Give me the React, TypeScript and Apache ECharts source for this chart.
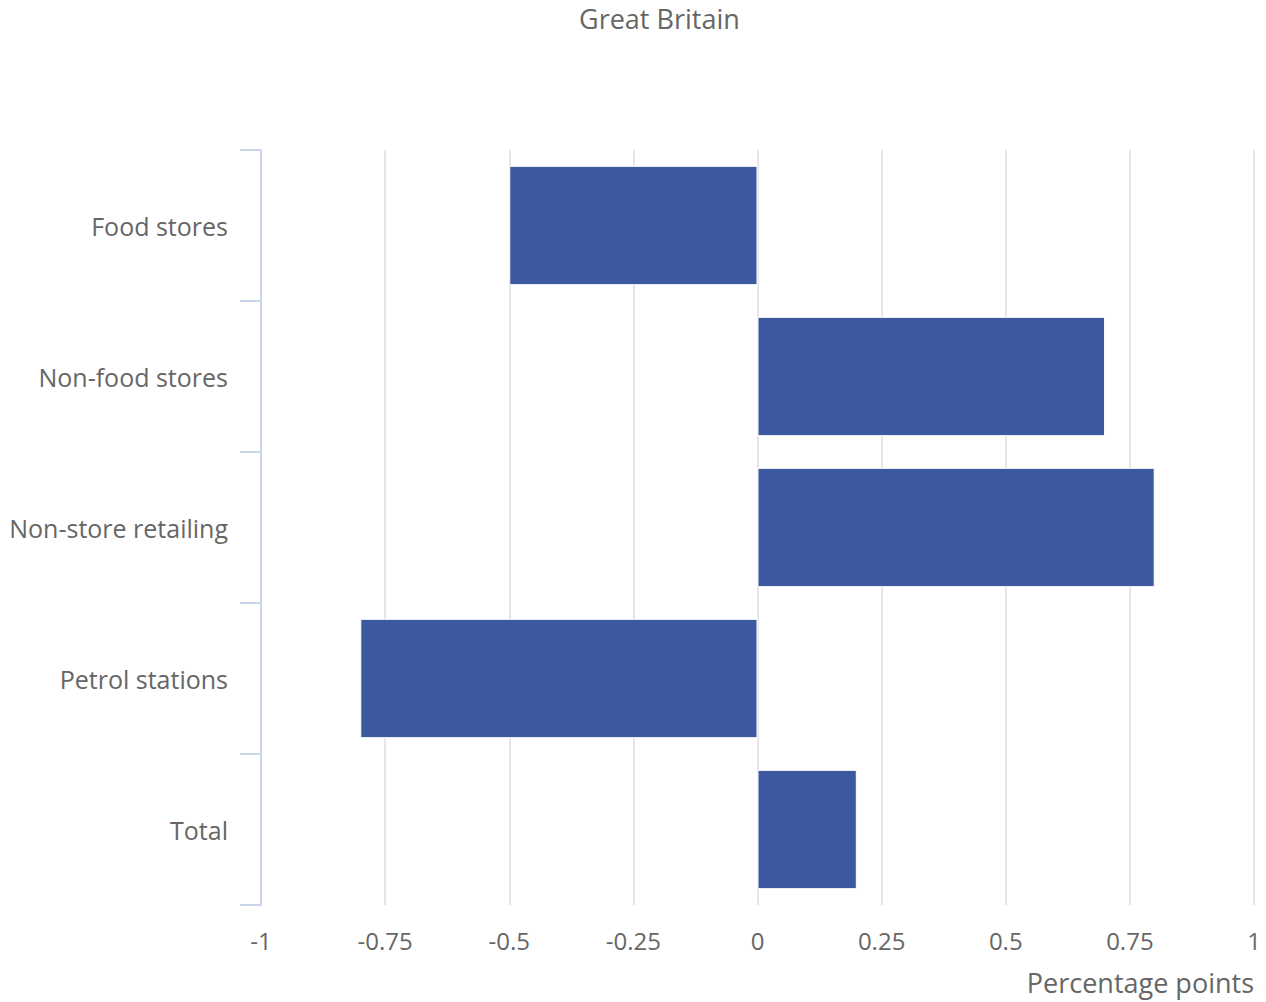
import React, { useEffect, useRef } from "react";
import * as echarts from "echarts";

const categories = ["Food stores", "Non-food stores", "Non-store retailing", "Petrol stations", "Total"];
const values = [-0.5, 0.7, 0.8, -0.8, 0.2];
const titleText = "Great Britain";
const xAxisName = "Percentage points";

const FONT = "'Open Sans', sans-serif";
const TEXT = "#666666";

export default function App() {
  const ref = useRef<HTMLDivElement>(null);
  useEffect(() => {
    if (!ref.current) return;
    const chart = echarts.init(ref.current, null, { renderer: "svg" });
    chart.setOption({
      animation: false,
      backgroundColor: "#ffffff",
      textStyle: { fontFamily: FONT },
      title: {
        text: titleText,
        left: 579,
        top: 5,
        padding: 0,
        textStyle: { fontFamily: FONT, fontSize: 27, fontWeight: "normal", color: TEXT },
      },
      grid: { left: 261, right: 12, top: 150, bottom: 97, containLabel: false },
      xAxis: {
        type: "value",
        min: -1,
        max: 1,
        interval: 0.25,
        name: xAxisName,
        nameLocation: "end",
        nameGap: 0,
        nameTextStyle: {
          fontFamily: FONT,
          fontSize: 27,
          color: TEXT,
          align: "right",
          verticalAlign: "top",
          padding: [64, 0, 0, 0],
        },
        axisLine: { show: false },
        axisTick: { show: false },
        axisLabel: {
          fontFamily: FONT,
          fontSize: 24,
          color: TEXT,
          margin: 23,
          formatter: (v: number) => String(v),
        },
        splitLine: { show: true, lineStyle: { color: "#e6e6e6", width: 2 } },
      },
      yAxis: {
        type: "category",
        data: categories,
        inverse: true,
        axisLine: { show: true, onZero: false, lineStyle: { color: "#ccd6eb", width: 2 } },
        axisTick: { show: true, length: 21, lineStyle: { color: "#ccd6eb", width: 2 } },
        axisLabel: { fontFamily: FONT, fontSize: 25, color: TEXT, margin: 33 },
        splitLine: { show: false },
      },
      series: [
        {
          type: "bar",
          data: values,
          barCategoryGap: "21%",
          itemStyle: { color: "#3c589e", borderColor: "#ffffff", borderWidth: 1 },
        },
      ],
    });
    return () => chart.dispose();
  }, []);
  return (
    <div
      ref={ref}
      style={{ position: "fixed", left: 0, top: 0, width: 1266, height: 1002 }}
    />
  );
}
